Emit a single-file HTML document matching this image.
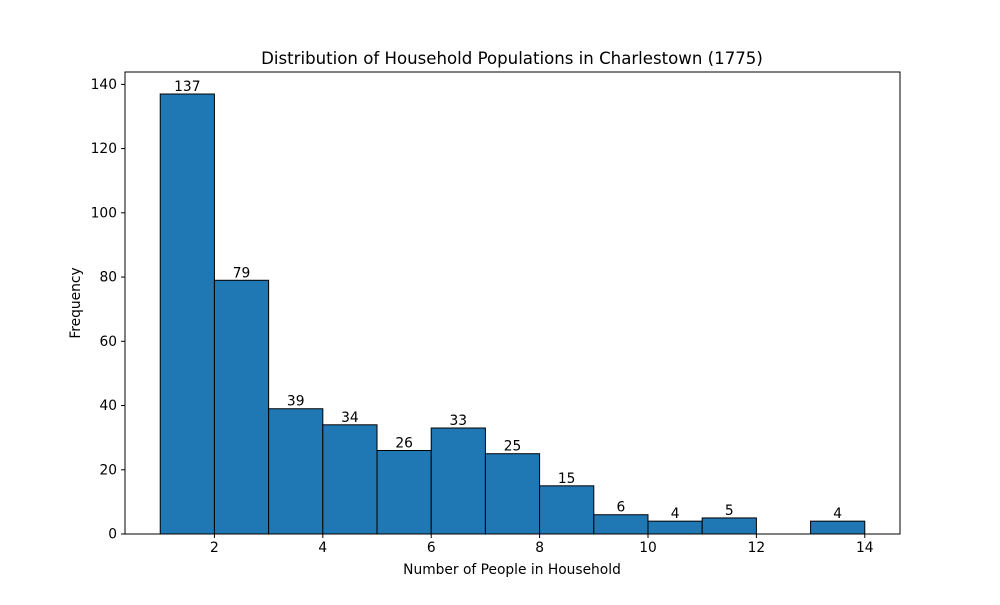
<!DOCTYPE html>
<html><head><meta charset="utf-8"><style>
body{margin:0;background:#fff;}
svg text{font-family:"DejaVu Sans","Liberation Sans",sans-serif;fill:#000;}
</style></head><body>
<svg id="chart" width="1000" height="600" xmlns="http://www.w3.org/2000/svg">
<rect width="1000" height="600" fill="#fff"/>
<text x="512" y="64" text-anchor="middle" font-size="16.6">Distribution of Household Populations in Charlestown (1775)</text>
<text x="512" y="574" text-anchor="middle" font-size="13.8">Number of People in Household</text>
<text x="80" y="303" text-anchor="middle" font-size="13.8" transform="rotate(-90 80 303)">Frequency</text>
<g id="bars"></g><g id="ticks"></g>
<rect x="125" y="72" width="775" height="462" fill="none" stroke="#000" stroke-width="1"/>
</svg>
<script>
const binEdges=[1,2,3,4,5,6,7,8,9,10,11,12,13,14];
const counts=[137,79,39,34,26,33,25,15,6,4,5,0,4];
const xTicks=[2,4,6,8,10,12,14];
const yTicks=[0,20,40,60,80,100,120,140];
const L=125,R=900,T=72,B=534;
const xmin=0.35,xmax=14.65,ymax=143.85;
const xs=v=>L+(v-xmin)/(xmax-xmin)*(R-L);
const ys=v=>B-v/ymax*(B-T);
const NS="http://www.w3.org/2000/svg";
const bars=document.getElementById('bars'),ticks=document.getElementById('ticks');
function mk(tag,attrs,parent){const e=document.createElementNS(NS,tag);for(const k in attrs)e.setAttribute(k,attrs[k]);parent.appendChild(e);return e;}
counts.forEach((c,i)=>{
 const x0=xs(binEdges[i]),x1=xs(binEdges[i+1]);
 if(c>0){
 const r=mk('rect',{x:x0,y:ys(c),width:x1-x0,height:B-ys(c),fill:'#1f77b4',stroke:'#000','stroke-width':1},bars);
 
 
 const t=mk('text',{x:(x0+x1)/2,y:ys(c)-3,'text-anchor':'middle','font-size':13.8},bars);t.textContent=c;
 
 
 } else {
 const l=mk('line',{x1:x0,x2:x1,y1:B,y2:B,stroke:'#000','stroke-width':1},bars);
 
 
 }
});
xTicks.forEach(v=>{const x=xs(v);
 mk('line',{x1:x,x2:x,y1:B,y2:B+4,stroke:'#000'},ticks);
 const t=mk('text',{x:x,y:B+18,'text-anchor':'middle','font-size':13.8},ticks);t.textContent=v;
 
 });
yTicks.forEach(v=>{const y=ys(v);
 mk('line',{x1:L-4,x2:L,y1:y,y2:y,stroke:'#000'},ticks);
 const t=mk('text',{x:L-8,y:y+4.5,'text-anchor':'end','font-size':13.8},ticks);t.textContent=v;
 
 });
</script>
</body></html>
